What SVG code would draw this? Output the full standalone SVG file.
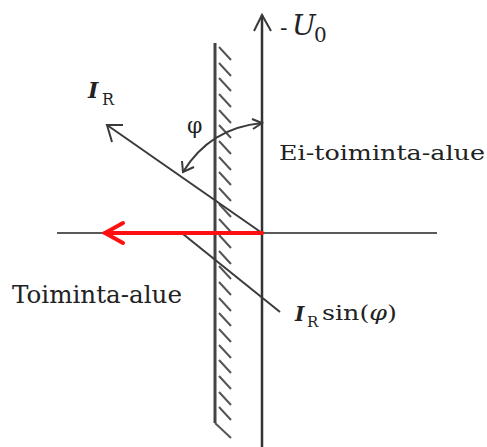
<svg xmlns="http://www.w3.org/2000/svg" width="487" height="447" viewBox="0 0 487 447">
<style>
.ax{stroke:#333;fill:none;stroke-width:2.5}
.hl{stroke:#222;fill:none;stroke-width:1.5}
.wl{stroke:#444;fill:none;stroke-width:3}
.ht{stroke:#555;fill:none;stroke-width:2}
.vec{stroke:#3a3a3a;fill:none;stroke-width:2}
.red{stroke:#ff1010;fill:none;stroke-width:4;stroke-linecap:round}
.t{font-family:"DejaVu Serif","Liberation Serif",serif;fill:#222}
</style>
<g id="connectors">
<line class="hl" x1="57" y1="233" x2="437" y2="233"/>
<line class="ax" x1="262" y1="15" x2="262" y2="447"/>
<polyline class="vec" points="254,31 262,15 271,31"/>
<g id="wall">
<line class="wl" x1="215" y1="43" x2="215" y2="423"/>
<line class="ht" x1="215" y1="423" x2="231" y2="438"/>
<path class="ht" d="M219,47l12,13 M219,63l12,13 M219,78l12,13 M219,94l12,13 M219,110l12,13 M219,125l12,13 M219,141l12,13 M219,157l12,13 M219,172l12,13 M219,188l12,13 M219,204l12,13 M219,219l12,13 M219,235l12,13 M219,251l12,13 M219,266l12,13 M219,282l12,13 M219,298l12,13 M219,313l12,13 M219,329l12,13 M219,345l12,13 M219,360l12,13 M219,376l12,13 M219,392l12,13 M219,407l12,13"/>
</g>
<g id="IR-vector">
<line class="vec" x1="262" y1="233" x2="107" y2="125"/>
<polyline class="vec" points="123,125 107,125 112,142"/>
</g>
<g id="projection">
<line class="vec" x1="183" y1="234" x2="280" y2="312"/>
</g>
<g id="angle-arc">
<path class="vec" d="M262,123 Q210,128 183,172"/>
<polyline class="vec" points="252,119 262,123 253,129"/>
<polyline class="vec" points="182,161 183,172 194,167"/>
</g>
<g id="red-arrow">
<line class="red" x1="262" y1="233" x2="105" y2="233"/>
<polyline class="red" points="123,223 105,233 123,243"/>
</g>
</g>
<g id="label-U0">
<text class="t" x="280" y="35" font-size="22">-</text>
<text class="t" x="292" y="35" font-size="28" font-style="italic">U</text>
<text class="t" x="314" y="42" font-size="20">0</text>
</g>
<g id="label-IR">
<text class="t" x="88" y="98" font-size="22" font-style="italic" font-weight="bold">I</text>
<text class="t" x="102" y="105" font-size="16">R</text>
</g>
<g id="label-phi">
<text class="t" x="187" y="133" font-size="22">φ</text>
</g>
<g id="label-ei">
<text class="t" x="279" y="160" font-size="21" textLength="206" lengthAdjust="spacingAndGlyphs">Ei-toiminta-alue</text>
</g>
<g id="label-toiminta">
<text class="t" x="12" y="303" font-size="24" textLength="170" lengthAdjust="spacingAndGlyphs">Toiminta-alue</text>
</g>
<g id="label-sin">
<text class="t" x="295" y="321" font-size="20" font-style="italic" font-weight="bold">I</text>
<text class="t" x="307" y="327" font-size="15">R</text>
<text class="t" x="322" y="320" font-size="21" textLength="75" lengthAdjust="spacingAndGlyphs">sin(<tspan font-style="italic">φ</tspan>)</text>
</g>
</svg>
